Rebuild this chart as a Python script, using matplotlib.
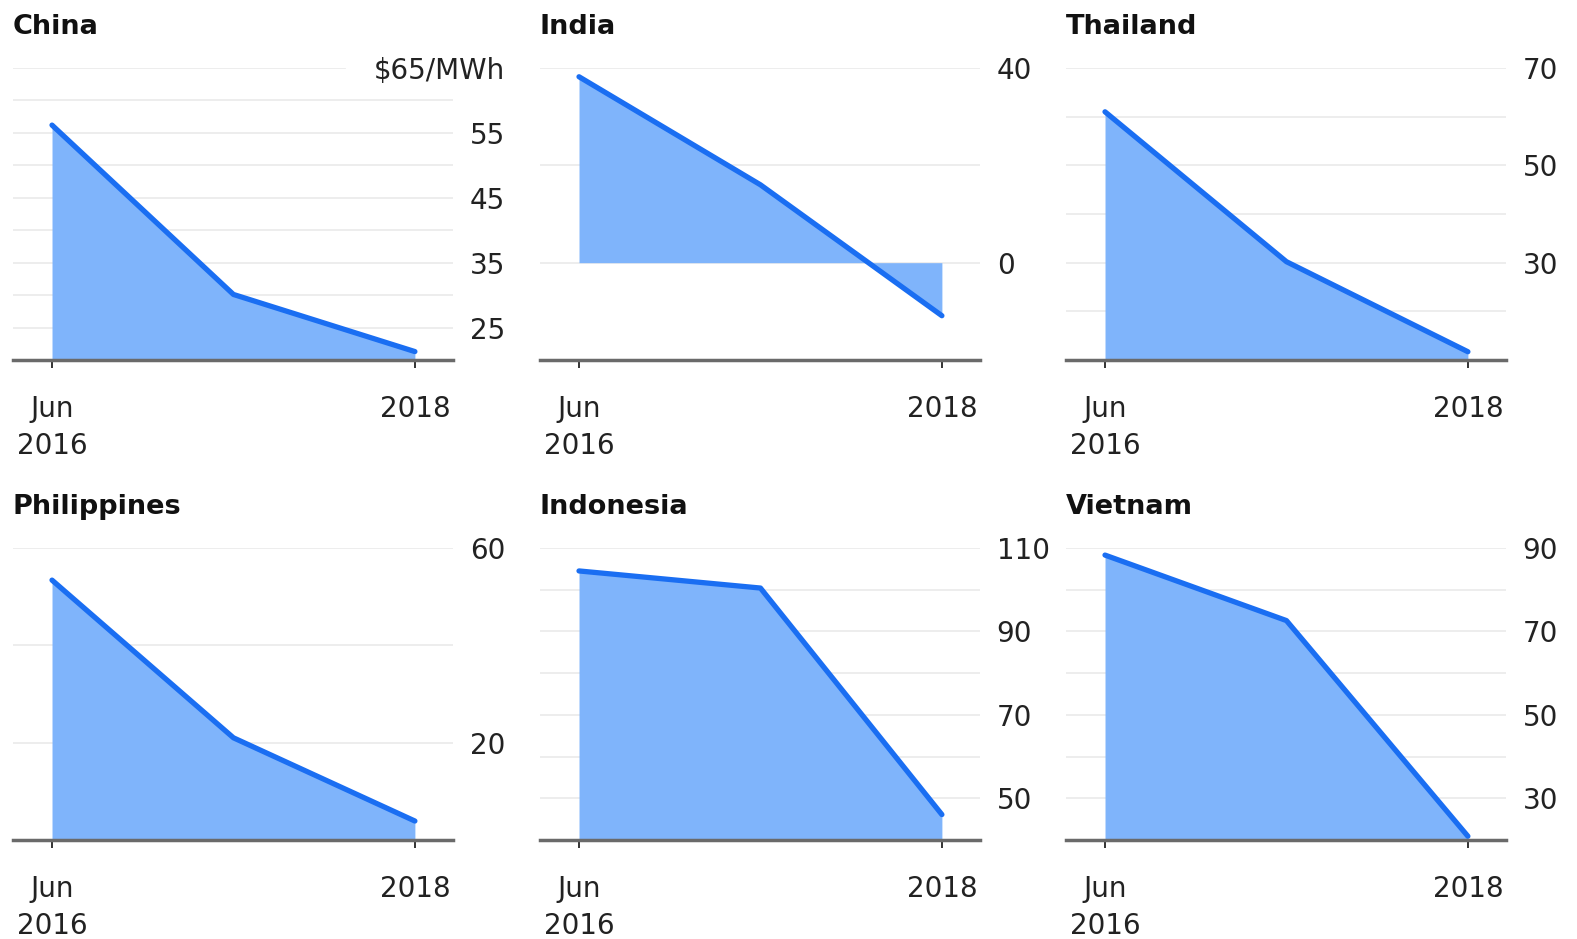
import numpy as np
import matplotlib
matplotlib.use("Agg")
import matplotlib.pyplot as plt

plt.rcParams['font.family'] = ['DejaVu Sans']

# Values ($/MWh), three points: Jun 2016, mid, 2018
countries = ["China", "India", "Thailand", "Philippines", "Indonesia", "Vietnam"]
china = [56.2, 30.1, 21.3]
india = [38.2, 16.0, -10.9]
thailand = [61.0, 30.2, 11.7]
philippines = [53.4, 21.0, 3.9]
indonesia = [104.5, 100.4, 46.1]
vietnam = [88.3, 72.6, 20.9]
series = [china, india, thailand, philippines, indonesia, vietnam]

tick_pos = [0, 2]
tick_labels = ["Jun\n2016", "2018"]

# y range, gridline values, labelled values
y_limits = [(20, 65), (-20, 40), (10, 70), (0, 60), (40, 110), (20, 90)]
grid_vals = [
    [25, 30, 35, 40, 45, 50, 55, 60, 65],
    [0, 20, 40],
    [20, 30, 40, 50, 60, 70],
    [20, 40, 60],
    [50, 60, 70, 80, 90, 100, 110],
    [30, 40, 50, 60, 70, 80, 90],
]
label_vals = [
    [25, 35, 45, 55],
    [0, 40],
    [30, 50, 70],
    [20, 60],
    [50, 70, 90, 110],
    [30, 50, 70, 90],
]
fill_base = [None, 0, None, None, None, None]

LINE = '#1a6ef2'
FILL = '#7fb4fb'
GRID = '#ececec'
AXIS = '#6a6a6a'
TXT = '#222222'
FS = 20

W, H = 1577, 939
fig = plt.figure(figsize=(W / 100, H / 100), dpi=100)

col_left = [13, 540, 1066]
row_top = [68, 548]
ax_w, ax_h = 440, 292

for i, name in enumerate(countries):
    r, c = divmod(i, 3)
    left = col_left[c] / W
    bottom = 1 - (row_top[r] + ax_h) / H
    ax = fig.add_axes([left, bottom, ax_w / W, ax_h / H])

    vals = series[i]
    x = np.arange(len(vals))
    lo, hi = y_limits[i]
    base = lo if fill_base[i] is None else fill_base[i]

    for g in grid_vals[i]:
        xmax = 0.755 if (i == 0 and g == 65) else 1.0
        ax.axhline(g, xmin=0, xmax=xmax, color=GRID, lw=1.3, zorder=0)

    ax.fill_between(x, vals, base, color=FILL, lw=0, zorder=1)
    ax.plot(x, vals, color=LINE, lw=3.8, solid_capstyle='round',
            solid_joinstyle='round', zorder=3)

    ax.set_xlim(-0.215, 2.21)
    ax.set_ylim(lo, hi)

    for s in ['top', 'left', 'right']:
        ax.spines[s].set_visible(False)
    ax.spines['bottom'].set_color(AXIS)
    ax.spines['bottom'].set_linewidth(2.5)
    ax.spines['bottom'].set_zorder(4)

    ax.set_xticks(tick_pos)
    ax.set_xticklabels(tick_labels, linespacing=1.4)
    ax.tick_params(axis='x', length=6, width=1.4, color='#333333',
                   labelsize=FS, pad=19, labelcolor=TXT)

    ax.yaxis.tick_right()
    ax.set_yticks(label_vals[i])
    ax.set_yticklabels([str(v) for v in label_vals[i]])
    ax.tick_params(axis='y', length=0, pad=12, labelsize=FS, labelcolor=TXT)

    if i == 0:
        ax.text(1.118, 65, "$65/MWh", transform=ax.get_yaxis_transform(),
                ha='right', va='center_baseline', fontsize=FS, color=TXT)

    fig.text(left, 1 - (row_top[r] - 41) / H, name, fontsize=19.5,
             fontweight='bold', color='#111111', va='center', ha='left')

fig.savefig('out.png', dpi=100, facecolor='white')
